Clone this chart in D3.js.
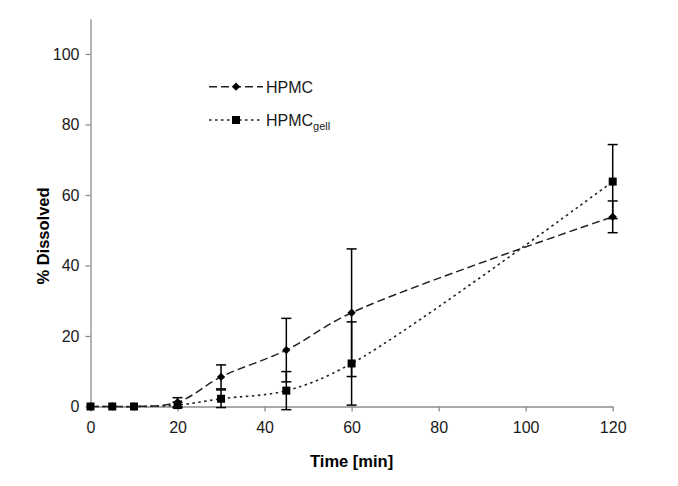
<!DOCTYPE html>
<html><head><meta charset="utf-8">
<script src="https://cdn.jsdelivr.net/npm/d3@7/dist/d3.min.js"></script>
<style>
html,body{margin:0;padding:0;background:#fff;}
svg{display:block;font-family:"Liberation Sans",Arial,sans-serif;}
</style></head>
<body><svg id="c" width="678" height="486"></svg>
<script>
const times = [0, 5, 10, 20, 30, 45, 60, 120];
const hpmc = [0, 0, 0, 1.2, 8.4, 16.0, 26.6, 53.8];
const hpmcErr = [0, 0, 0, 1.3, 3.4, 9.0, 18.1, 4.5];
const gell = [0, 0, 0, 0.4, 2.2, 4.5, 12.2, 63.8];
const gellErr = [0, 0, 0, 0.8, 2.5, 5.4, 11.8, 10.5];
const xTicks = [0, 20, 40, 60, 80, 100, 120];
const yTicks = [0, 20, 40, 60, 80, 100];

const svg = d3.select("#c");
svg.append("rect").attr("width",678).attr("height",486).attr("fill","#fff");

const x = d3.scaleLinear().domain([0,120]).range([90.5,612.7]);
const y = d3.scaleLinear().domain([0,110]).range([406.5,18.7]);

const axisCol = "#8c8c8c";
const textCol = "#1a1a1a";

const gx = svg.append("g").attr("transform",`translate(0,${y(0)})`)
  .call(d3.axisBottom(x).tickValues(xTicks).tickSize(5).tickPadding(10).tickSizeOuter(0));
const gy = svg.append("g").attr("transform",`translate(${x(0)},0)`)
  .call(d3.axisLeft(y).tickValues(yTicks).tickSize(5).tickPadding(6).tickSizeOuter(0));
[gx,gy].forEach(g=>{
  g.select(".domain").attr("stroke",axisCol).attr("stroke-width",1.3);
  g.selectAll(".tick line").attr("stroke",axisCol).attr("stroke-width",1.3);
  g.selectAll(".tick text").attr("fill",textCol).attr("font-size","16px")
    .attr("font-family","'Liberation Sans',Arial,sans-serif");
});

svg.append("text").attr("x",(x(0)+x(120))/2).attr("y",467)
  .attr("text-anchor","middle").attr("font-weight","bold").attr("font-size","16.5px")
  .attr("fill","#000").text("Time [min]");
svg.append("text").attr("transform","translate(49,236) rotate(-90)")
  .attr("text-anchor","middle").attr("font-weight","bold").attr("font-size","16.5px")
  .attr("fill","#000").text("% Dissolved");

const line = d3.line().curve(d3.curveCatmullRom.alpha(0.5)).x(d=>x(d[0])).y(d=>y(d[1]));
const hData = times.map((t,i)=>[t,hpmc[i],hpmcErr[i]]);
const gData = times.map((t,i)=>[t,gell[i],gellErr[i]]);

const dashH = "8,4";
const dashG = "2.5,3.5";

svg.append("path").datum(hData).attr("d",line).attr("fill","none")
  .attr("stroke","#222").attr("stroke-width",1.5).attr("stroke-dasharray",dashH);
svg.append("path").datum(gData).attr("d",line).attr("fill","none")
  .attr("stroke","#222").attr("stroke-width",1.6).attr("stroke-dasharray",dashG);

function errBars(data){
  const g = svg.append("g").attr("stroke","#000").attr("stroke-width",1.5);
  data.filter(d=>d[2]>0).forEach(d=>{
    const cx = x(d[0]), top = y(d[1]+d[2]), bot = y(d[1]-d[2]);
    g.append("line").attr("x1",cx).attr("x2",cx).attr("y1",top).attr("y2",bot);
    g.append("line").attr("x1",cx-5).attr("x2",cx+5).attr("y1",top).attr("y2",top);
    g.append("line").attr("x1",cx-5).attr("x2",cx+5).attr("y1",bot).attr("y2",bot);
  });
}
errBars(hData);
errBars(gData);

const diamond = d3.symbol().type(d3.symbolDiamond2).size(44);
svg.append("g").selectAll("path").data(hData).join("path")
  .attr("d",diamond).attr("transform",d=>`translate(${x(d[0])},${y(d[1])})`)
  .attr("fill","#000");
svg.append("g").selectAll("rect").data(gData).join("rect")
  .attr("x",d=>x(d[0])-4).attr("y",d=>y(d[1])-4).attr("width",8).attr("height",8)
  .attr("fill","#000");

const lg = svg.append("g");
const rows = [{y:86.7,dash:dashH,name:"HPMC",sym:"d"},{y:120,dash:dashG,name:"HPMC",sub:"gell",sym:"s"}];
rows.forEach(r=>{
  lg.append("line").attr("x1",209).attr("x2",263).attr("y1",r.y).attr("y2",r.y)
    .attr("stroke","#222").attr("stroke-width",1.5).attr("stroke-dasharray",r.dash);
  if(r.sym==="d"){
    lg.append("path").attr("d",diamond).attr("transform",`translate(236,${r.y})`).attr("fill","#000");
  } else {
    lg.append("rect").attr("x",232).attr("y",r.y-4).attr("width",8).attr("height",8).attr("fill","#000");
  }
  const t = lg.append("text").attr("x",266).attr("y",r.y+6).attr("font-size","16px").attr("fill",textCol).text(r.name);
  if(r.sub){
    t.append("tspan").attr("font-size","11px").attr("dy",4).text(r.sub);
  }
});
</script></body></html>
